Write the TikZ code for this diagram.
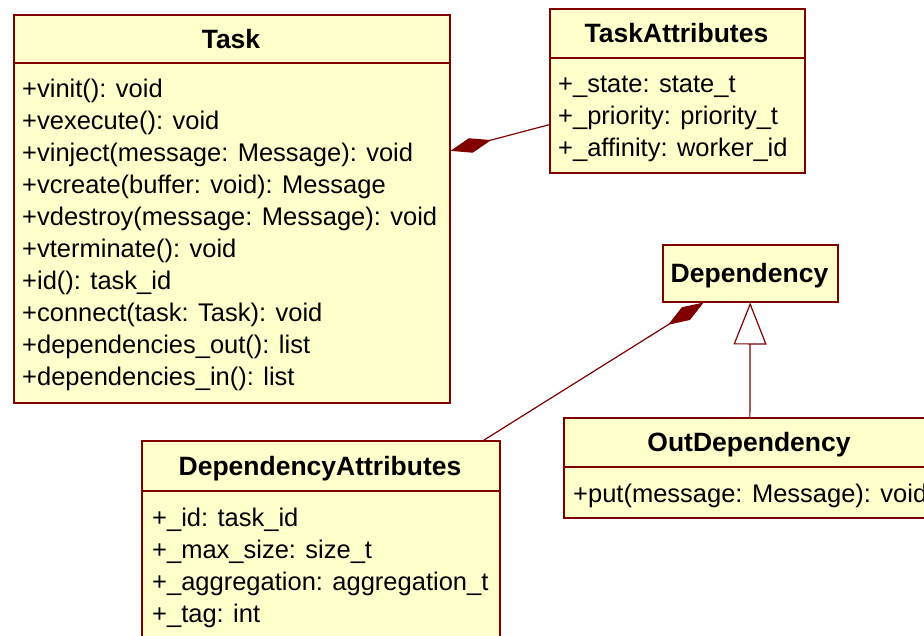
\documentclass[tikz,border=0pt]{standalone}
\usepackage{fontspec}
\setmainfont{Liberation Sans}
\usetikzlibrary{arrows.meta}
\definecolor{umlfill}{RGB}{255,255,204}
\definecolor{umlline}{RGB}{128,0,0}
\begin{document}
\begin{tikzpicture}[x=1pt,y=-1pt,
  box/.style={draw=umlline, fill=umlfill, line width=1.5pt, inner sep=0pt, anchor=north west},
  hdr/.style={draw=umlline, line width=1.5pt},
  ttl/.style={font=\fontsize{26.5}{30}\selectfont\bfseries, anchor=base, inner sep=0pt},
  attr/.style={font=\fontsize{25.5}{30}\selectfont, anchor=base west, inner sep=0pt},
  comp/.style={draw=umlline, line width=1.2pt, -{Diamond[length=42pt,width=15pt,color=umlline,fill=umlline]}},
  gen/.style={draw=umlline, line width=1.2pt, -{Triangle[open,length=42pt,width=33pt,color=umlline,fill=white]}},
]
\fill[white] (0,0) rectangle (924,635);
\useasboundingbox (0,0) rectangle (924,635);
\clip (0,0) rectangle (924,635);

% Task
\node[box, minimum width=436pt, minimum height=388pt] (task) at (13,14) {};
\draw[hdr] (task.west |- 0,63) -- (task.east |- 0,63);
\node[ttl] (taskT) at (231,48) {Task};
\foreach \s [count=\i from 0] in {+vinit(): void, +vexecute(): void, +vinject(message: Message): void, +vcreate(buffer: void): Message, +vdestroy(message: Message): void, +vterminate(): void, +id(): task\_id, +connect(task: Task): void, +dependencies\_out(): list, +dependencies\_in(): list}
  \node[attr] (t\i) at (22,{97+32*\i}) {\s};

% TaskAttributes
\node[box, minimum width=255pt, minimum height=164pt] (ta) at (549,8) {};
\draw[hdr] (ta.west |- 0,58) -- (ta.east |- 0,58);
\node[ttl] (taT) at (676.5,42.5) {TaskAttributes};
\foreach \s [count=\i from 0] in {+\_state: state\_t, +\_priority: priority\_t, +\_affinity: worker\_id}
  \node[attr] (a\i) at (558,{92+32*\i}) {\s};

% Dependency
\node[box, minimum width=175pt, minimum height=57pt] (dep) at (662,244) {};
\node[ttl] (depT) at (749.5,282) {Dependency};

% OutDependency
\node[box, minimum width=372pt, minimum height=100pt] (od) at (563,417) {};
\draw[hdr] (od.west |- 0,467) -- (od.east |- 0,467);
\node[ttl] (odT) at (749,451.5) {OutDependency};
\node[attr] (o0) at (573,502) {+put(message: Message): void};

% DependencyAttributes
\node[box, minimum width=358pt, minimum height=204pt] (da) at (141,440) {};
\draw[hdr] (da.west |- 0,491) -- (da.east |- 0,491);
\node[ttl] (daT) at (320,475) {DependencyAttributes};
\foreach \s [count=\i from 0] in {+\_id: task\_id, +\_max\_size: size\_t, +\_aggregation: aggregation\_t, +\_tag: int}
  \node[attr] (d\i) at (152,{526+32*\i}) {\s};

% connectors
\draw[comp] (ta) -- (task);
\draw[comp] (da) -- (dep);
\draw[gen] (od) -- (dep);
\end{tikzpicture}
\end{document}
